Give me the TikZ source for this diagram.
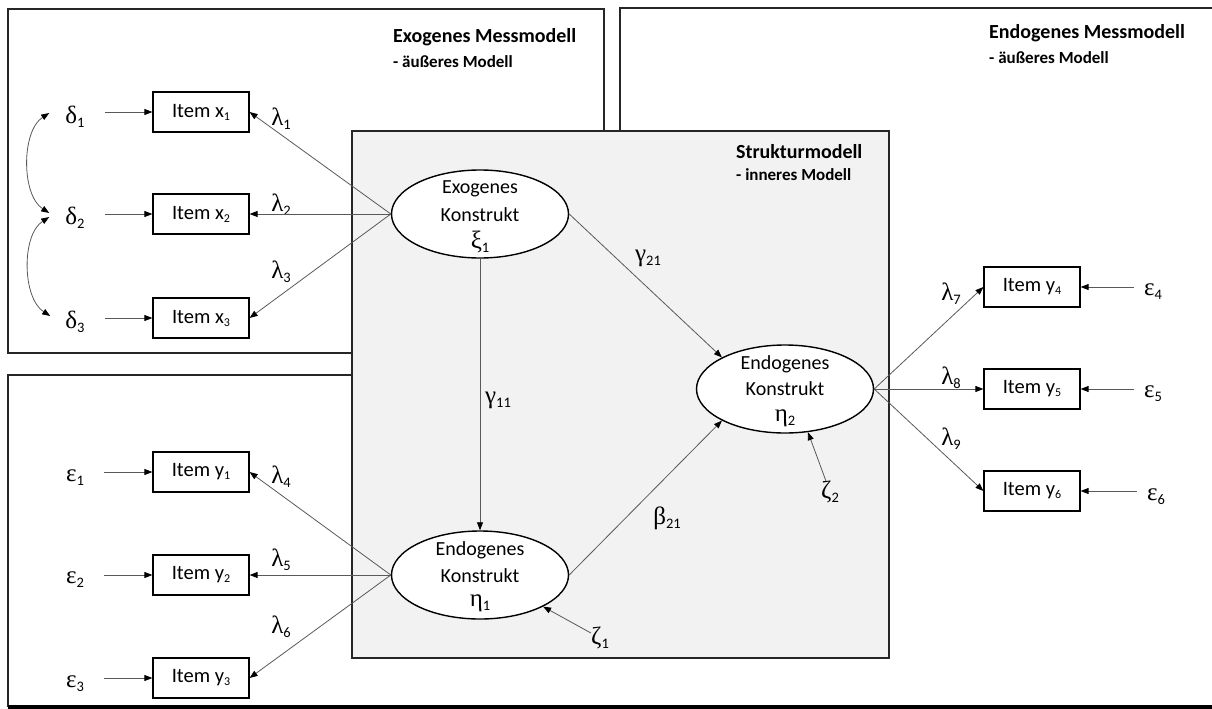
\documentclass[tikz,border=0pt]{standalone}
\usepackage{fontspec}
\setmainfont{Carlito}
\newfontfamily\grkfont{Liberation Serif}
\usetikzlibrary{arrows.meta,shapes.geometric}

% Greek symbol with a subscript index
\newcommand\gsub[2]{{\grkfont\fontsize{25}{25}\selectfont #1}\raisebox{-4pt}{\fontsize{14.5}{15}\selectfont #2}}
% small subscript inside item boxes
\newcommand\isub[1]{\raisebox{-3pt}{\fontsize{12}{12}\selectfont #1}}

\tikzset{
  frame/.style={draw=black!85, line width=1.5pt},
  strukbox/.style={draw=black!85, line width=1.5pt, fill=black!5},
  item/.style={draw=black, line width=1.2pt, fill=white, minimum width=96pt,
    minimum height=40pt, inner sep=0pt, font=\fontsize{20.5}{24}\selectfont},
  latent/.style={ellipse, draw=black, line width=1.4pt, fill=white,
    minimum width=177pt, minimum height=88pt, inner sep=0pt},
  ltext/.style={inner sep=0pt, font=\fontsize{20}{24}\selectfont},
  lbl/.style={inner sep=0pt},
  title/.style={anchor=west, inner sep=0pt, font=\bfseries\fontsize{20}{24}\selectfont},
  subtitle/.style={anchor=west, inner sep=0pt, font=\bfseries\fontsize{17}{20}\selectfont},
  arr/.style={draw=black!65, line width=0.8pt, -{Triangle[length=8pt,width=6pt,color=black]}},
  dbl/.style={draw=black!65, line width=0.8pt,
    {Triangle[length=8pt,width=6pt,color=black]}-{Triangle[length=8pt,width=6pt,color=black]}},
}

\begin{document}
\begin{tikzpicture}[x=1pt,y=-1pt]
\useasboundingbox (0,0) rectangle (1212,709);

% measurement model frames
\draw[frame] (8,9) rectangle (604,353);
\draw[frame] (620,131) -- (620,8) -- (1214,8);
\draw[frame] (352,375) -- (8,375) -- (8,707);
\draw[black, line width=3.5pt] (8,707) -- (1214,707);

% structural model panel
\draw[strukbox] (352,131) rectangle (889,658);

% titles
\node[title] (t1) at (393,37) {Exogenes Messmodell};
\node[subtitle] (s1) at (393,62) {- äußeres Modell};
\node[title] (t2) at (989,33) {Endogenes Messmodell};
\node[subtitle] (s2) at (989,58) {- äußeres Modell};
\node[title] (t3) at (736,152) {Strukturmodell};
\node[subtitle] (s3) at (736,175) {- inneres Modell};

% latent constructs
\node[latent] (ex) at (480,214) {};
\node[latent] (en1) at (480,575) {};
\node[latent] (en2) at (785,389) {};

\node[ltext] at ([yshift=25pt]ex) {Exogenes};
\node[ltext] at ([yshift=-1pt]ex) {Konstrukt};
\node[ltext] at ([yshift=-28pt]ex) {\gsub{ξ}{1}};
\node[ltext] at ([yshift=25pt]en1) {Endogenes};
\node[ltext] at ([yshift=-1pt]en1) {Konstrukt};
\node[ltext] at ([yshift=-28pt]en1) {\gsub{η}{1}};
\node[ltext] at ([yshift=25pt]en2) {Endogenes};
\node[ltext] at ([yshift=0pt]en2) {Konstrukt};
\node[ltext] at ([yshift=-29pt]en2) {\gsub{η}{2}};

% indicator items
\node[item] (x1) at (201,112) {Item x\isub{1}};
\node[item] (x2) at (201,214) {Item x\isub{2}};
\node[item] (x3) at (201,318) {Item x\isub{3}};
\node[item] (y1) at (201,472) {Item y\isub{1}};
\node[item] (y2) at (201,575) {Item y\isub{2}};
\node[item] (y3) at (201,678) {Item y\isub{3}};
\node[item] (y4) at (1032,287) {Item y\isub{4}};
\node[item] (y5) at (1032,389) {Item y\isub{5}};
\node[item] (y6) at (1032,491) {Item y\isub{6}};

% error terms
\node[lbl] (d1) at (75,117) {\gsub{δ}{1}};
\node[lbl] (d2) at (75,218) {\gsub{δ}{2}};
\node[lbl] (d3) at (75,322) {\gsub{δ}{3}};
\node[lbl] (e1) at (75,478) {\gsub{ε}{1}};
\node[lbl] (e2) at (75,580) {\gsub{ε}{2}};
\node[lbl] (e3) at (75,684) {\gsub{ε}{3}};
\node[lbl] (e4) at (1153,292) {\gsub{ε}{4}};
\node[lbl] (e5) at (1153,394) {\gsub{ε}{5}};
\node[lbl] (e6) at (1156,497) {\gsub{ε}{6}};
\node[lbl] (z1) at (600,638) {\gsub{ζ}{1}};
\node[lbl] (z2) at (830,492) {\gsub{ζ}{2}};

% path coefficient labels
\node[lbl] (l1) at (281,119) {\gsub{λ}{1}};
\node[lbl] (l2) at (281,205) {\gsub{λ}{2}};
\node[lbl] (l3) at (281,272) {\gsub{λ}{3}};
\node[lbl] (l4) at (281,477) {\gsub{λ}{4}};
\node[lbl] (l5) at (281,560) {\gsub{λ}{5}};
\node[lbl] (l6) at (281,627) {\gsub{λ}{6}};
\node[lbl] (l7) at (951,294) {\gsub{λ}{7}};
\node[lbl] (l8) at (951,378) {\gsub{λ}{8}};
\node[lbl] (l9) at (951,439) {\gsub{λ}{9}};
\node[lbl] (g11) at (498,400) {\gsub{γ}{11}};
\node[lbl] (g21) at (648,258) {\gsub{γ}{21}};
\node[lbl] (b21) at (667,518) {\gsub{β}{21}};

% error arrows into items
\foreach \e/\i in {d1/x1,d2/x2,d3/x3,e1/y1,e2/y2,e3/y3}
  \draw[arr, shorten <=20pt] (\e.east |- \i.west) -- (\i.west);
\foreach \e/\i in {e4/y4,e5/y5,e6/y6}
  \draw[arr, shorten <=10pt] (\e.west |- \i.east) -- (\i.east);

% error covariances
\draw[dbl] ([xshift=-16pt,yshift=4pt]d1.west) .. controls +(-28,18) and +(-28,-18) .. ([xshift=-16pt,yshift=5pt]d2.west);
\draw[dbl] ([xshift=-16pt,yshift=1pt]d2.west) .. controls +(-28,18) and +(-28,-18) .. ([xshift=-15pt,yshift=6pt]d3.west);

% loadings
\foreach \i in {x1,x2,x3} \draw[arr] (ex.west) -- (\i.east);
\foreach \i in {y1,y2,y3} \draw[arr] (en1.west) -- (\i.east);
\foreach \i in {y4,y5,y6} \draw[arr] (en2.east) -- (\i.west);

% structural paths
\draw[arr] (ex.south) -- (en1.north);
\draw[arr] (ex.east) -- (en2.north west);
\draw[arr] (en1.east) -- (en2.south west);
\draw[arr] (z1) -- (en1.south east);
\draw[arr] (z2) -- (en2.-62);
\end{tikzpicture}
\end{document}
